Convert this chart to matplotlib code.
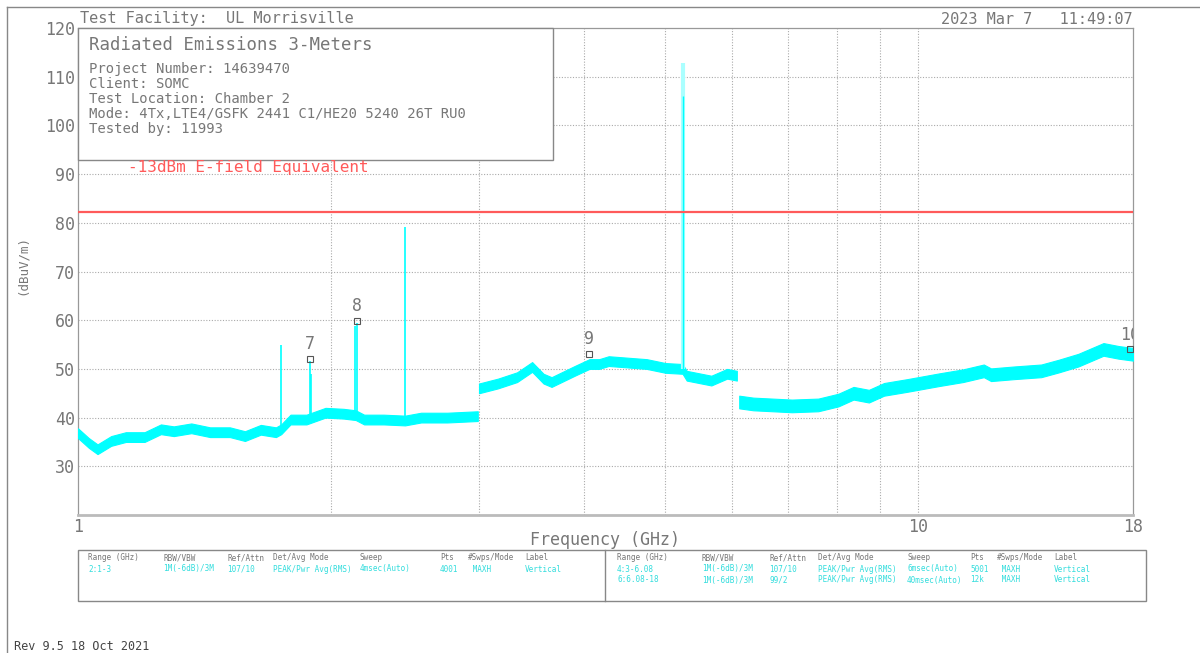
import numpy as np
import matplotlib
matplotlib.use("Agg")
import matplotlib.pyplot as plt
from matplotlib.patches import Rectangle
from matplotlib.lines import Line2D

plt.rcParams['font.family'] = ['DejaVu Sans Mono']

# --- trace data (GHz, dBuV/m), three sweep ranges ---
f_a = [1.00, 1.03, 1.055, 1.095, 1.14, 1.20, 1.255, 1.30, 1.364, 1.436, 1.516, 1.58,
       1.65, 1.72, 1.745, 1.79, 1.87, 1.97, 2.07, 2.14, 2.19, 2.31, 2.45, 2.56, 2.75, 2.99]
lvl_a = [36.8, 34.8, 33.5, 35.2, 36.0, 36.0, 37.6, 37.2, 37.8, 37.0, 37.0, 36.2,
         37.5, 37.0, 37.6, 39.6, 39.6, 41.0, 40.8, 40.5, 39.6, 39.6, 39.4, 40.0, 40.0, 40.3]
f_b = [3.00, 3.16, 3.33, 3.47, 3.58, 3.66, 3.90, 4.06, 4.17, 4.28, 4.75, 5.00, 5.24,
       5.30, 5.67, 5.92, 6.08]
lvl_b = [46.0, 47.0, 48.3, 50.4, 48.0, 47.3, 49.6, 51.0, 51.0, 51.6, 51.0, 50.2, 50.0,
         48.6, 47.6, 49.0, 48.6]
f_c = [6.12, 6.36, 7.07, 7.6, 8.03, 8.37, 8.73, 9.1, 9.7, 10.6, 11.3, 11.96, 12.2,
       13.0, 14.0, 14.7, 15.5, 16.6, 17.3, 18.0]
lvl_c = [43.2, 42.8, 42.4, 42.6, 43.6, 45.0, 44.4, 45.8, 46.6, 47.8, 48.6, 49.6, 48.8,
         49.2, 49.6, 50.6, 51.8, 54.0, 53.4, 53.0]
band = [1.0, 1.0, 1.3]   # half width of the noisy trace per range

# narrow emissions: freq, base, peak
spike_f = [1.745, 1.89, 1.895, 2.135, 2.15, 2.45]
spike_base = [37.6, 39.6, 39.6, 40.5, 40.5, 39.4]
spike_top = [55.0, 51.7, 49.0, 58.8, 59.5, 79.2]
carrier_f = 5.25
carrier_top = 112.8

# markers
mk_label = ["7", "8", "9", "10"]
mk_f = [1.89, 2.15, 4.05, 17.85]
mk_lvl = [52.0, 59.8, 53.0, 54.0]

limit = 82.2
limit_label = "-13dBm E-field Equivalent"

info_title = "Radiated Emissions 3-Meters"
info_lines = ["Project Number: 14639470", "Client: SOMC", "Test Location: Chamber 2",
              "Mode: 4Tx,LTE4/GSFK 2441 C1/HE20 5240 26T RU0", "Tested by: 11993"]

tbl_head = ["Range (GHz)", "RBW/VBW", "Ref/Attn", "Det/Avg Mode", "Sweep", "Pts",
            "#Swps/Mode", "Label"]
tbl_left = [["2:1-3", "1M(-6dB)/3M", "107/10", "PEAK/Pwr Avg(RMS)", "4msec(Auto)",
             "4001", " MAXH", "Vertical"]]
tbl_right = [["4:3-6.08", "1M(-6dB)/3M", "107/10", "PEAK/Pwr Avg(RMS)", "6msec(Auto)",
              "5001", " MAXH", "Vertical"],
             ["6:6.08-18", "1M(-6dB)/3M", "99/2", "PEAK/Pwr Avg(RMS)", "40msec(Auto)",
              "12k", " MAXH", "Vertical"]]

W, H = 1200, 653
GRAY = '#777777'
CYAN = '#00ffff'


def fx(x):
    return x / W


def fy(y):
    return 1 - y / H


fig = plt.figure(figsize=(12, 6.53), dpi=100)
ax = fig.add_axes([fx(78), fy(515), fx(1133 - 78), (515 - 28) / H])

ax.set_xscale('log')
ax.set_xlim(1, 18)
ax.set_ylim(20, 120)

for f, l, hw in [(f_a, lvl_a, band[0]), (f_b, lvl_b, band[1]), (f_c, lvl_c, band[2])]:
    l = np.array(l)
    ax.fill_between(f, l - hw, l + hw, color=CYAN, lw=0.8, zorder=3)

ax.vlines(spike_f, spike_base, spike_top, color=CYAN, lw=1.2, zorder=3)
ax.vlines(carrier_f, lvl_b[12], carrier_top, color='#aaffff', lw=3, zorder=3)
ax.vlines(carrier_f, lvl_b[12], 106, color=CYAN, lw=1, zorder=3)

ax.axhline(limit, color='#ff5a5a', lw=1.6, zorder=4)

ax.plot(mk_f, mk_lvl, 's', ms=5, mfc='none', mec='#555555', mew=0.8, zorder=5)
for lab, f, l in zip(mk_label, mk_f, mk_lvl):
    ax.text(f, l + 1.2, lab, color=GRAY, fontsize=12, ha='center', va='bottom',
            zorder=5, clip_on=True)

# grid
ax.set_yticks(np.arange(20, 121, 10))
ax.set_yticklabels([''] + [str(v) for v in range(30, 121, 10)])
ax.set_xticks([1, 10, 18])
ax.set_xticklabels(['1', '10', '18'])
ax.set_xticks([], minor=True)
for v in range(30, 120, 10):
    ax.axhline(v, color='#aaaaaa', lw=0.8, ls=(0, (1, 1.5)), zorder=1)
for v in range(2, 11):
    ax.axvline(v, color='#aaaaaa', lw=0.8, ls=(0, (1, 1.5)), zorder=1)
ax.tick_params(length=0, colors=GRAY, labelsize=12, pad=2)
for s in ax.spines.values():
    s.set_color('#999999')
    s.set_linewidth(0.9)
ax.spines['bottom'].set_color('#bbbbbb')
ax.spines['bottom'].set_linewidth(2)

fig.text(fx(605), fy(540), "Frequency (GHz)", color=GRAY, fontsize=12,
         ha='center', va='center')
fig.text(fx(22), fy(265), "(dBuV/m)", rotation=90, color=GRAY, fontsize=9,
         ha='center', va='center')

# outer frame
fig.add_artist(Line2D([fx(7), fx(7)], [fy(7), 0], color='#888888', lw=1))
fig.add_artist(Line2D([fx(7), 1], [fy(7), fy(7)], color='#888888', lw=1))

fig.text(fx(80), fy(19), "Test Facility:  UL Morrisville", color=GRAY, fontsize=11,
         va='center')
fig.text(fx(1133), fy(19), "2023 Mar 7   11:49:07", color=GRAY, fontsize=11,
         va='center', ha='right')

# info box
fig.add_artist(Rectangle((fx(78), fy(160)), fx(553 - 78), (160 - 28) / H,
                         transform=fig.transFigure, fc='white', ec='#888888', lw=1,
                         zorder=3))
fig.text(fx(89), fy(45), info_title, color=GRAY, fontsize=12.5, va='center', zorder=4)
for i, line in enumerate(info_lines):
    fig.text(fx(89), fy(69 + 15 * i), line, color=GRAY, fontsize=10, va='center',
             zorder=4)
fig.text(fx(128), fy(168), limit_label, color='#ff5a5a', fontsize=11.5, va='center',
         zorder=4)

# settings table
fig.add_artist(Rectangle((fx(78), fy(601)), fx(1146 - 78), (601 - 550) / H,
                         transform=fig.transFigure, fc='none', ec='#888888', lw=1))
fig.add_artist(Line2D([fx(605), fx(605)], [fy(601), fy(550)], color='#888888', lw=1))
col_left = [88, 163, 227, 273, 360, 440, 468, 525]
col_right = [617, 702, 769, 818, 907, 970, 997, 1054]
for cols, rows in [(col_left, tbl_left), (col_right, tbl_right)]:
    for c, h in zip(cols, tbl_head):
        fig.text(fx(c), fy(558), h, color=GRAY, fontsize=5.5, va='center')
    for r, row in enumerate(rows):
        for c, v in zip(cols, row):
            fig.text(fx(c), fy(569 + 11 * r), v, color='#33dddd', fontsize=5.5,
                     va='center')

fig.text(fx(14), fy(646), "Rev 9.5 18 Oct 2021", color='#444444', fontsize=8.5,
         va='center')

fig.savefig("out.png", dpi=100)
